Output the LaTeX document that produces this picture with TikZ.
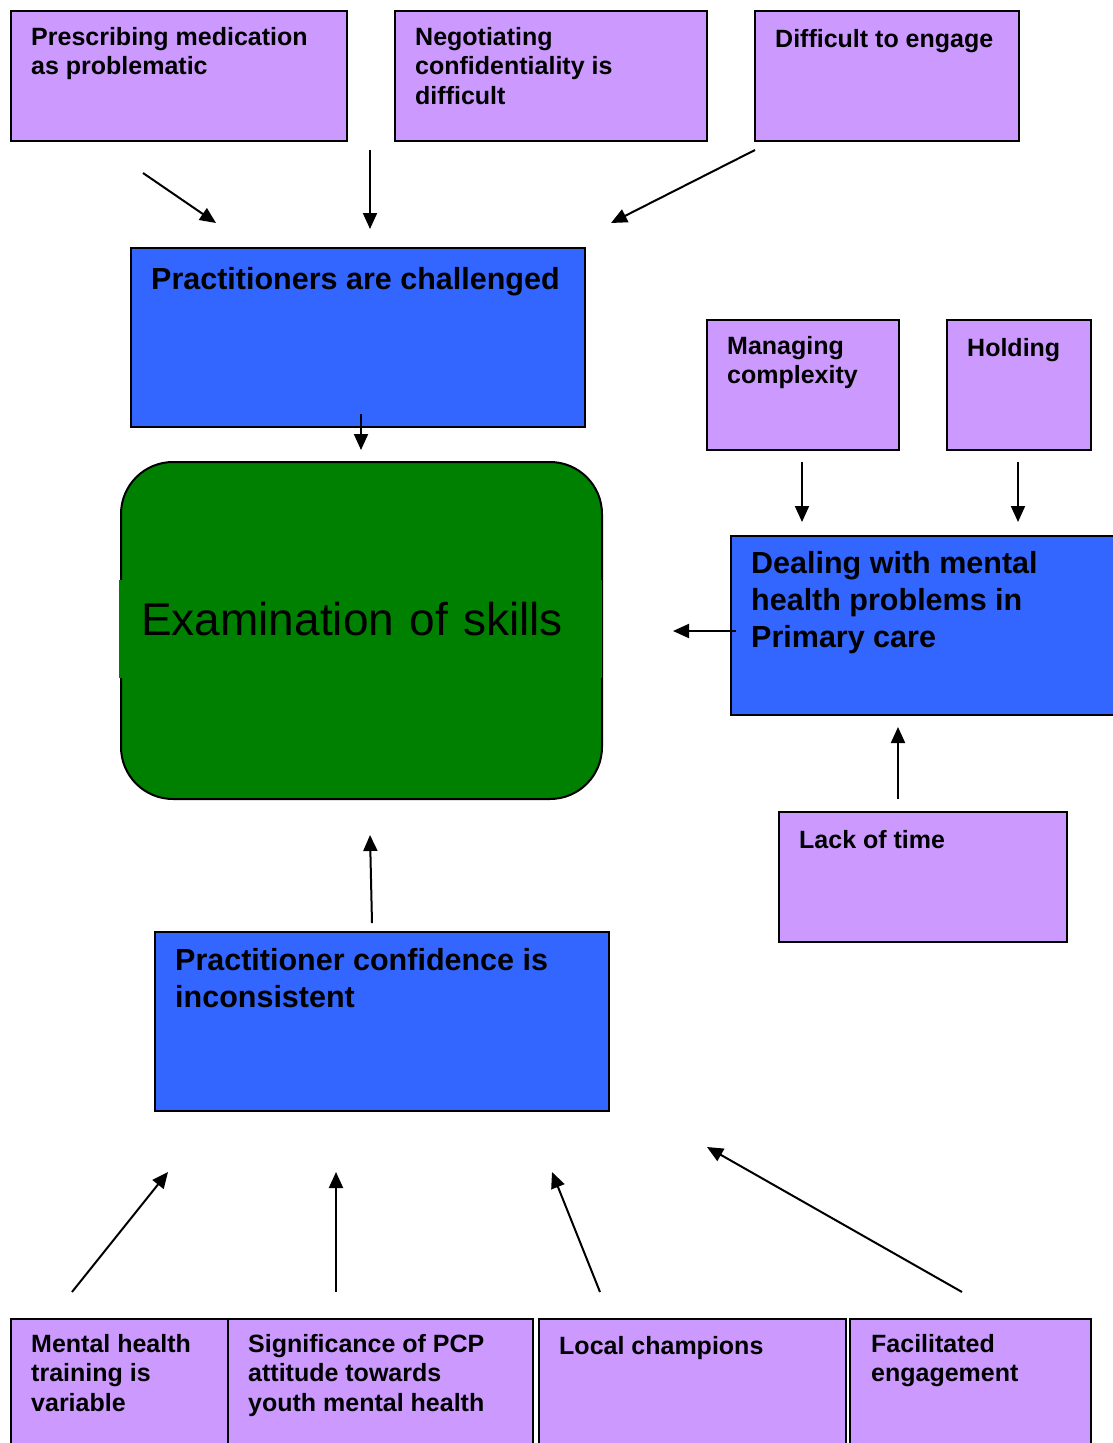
\documentclass[tikz,border=0pt]{standalone}
\usepackage{fontspec}
\setmainfont{Liberation Sans}
\usetikzlibrary{arrows.meta}
\definecolor{lilac}{HTML}{CC99FF}
\definecolor{royal}{HTML}{3366FF}
\definecolor{leaf}{HTML}{008000}
\tikzset{
  box/.style={draw=black, line width=2pt, rectangle, inner sep=0pt, anchor=north west},
  lilacbox/.style={box, fill=lilac},
  bluebox/.style={box, fill=royal},
  smalltext/.style={anchor=north west, inner sep=0pt, align=left,
    font=\bfseries\fontsize{25}{29.5}\selectfont, execute at begin node=\strut},
  bigtext/.style={anchor=north west, inner sep=0pt, align=left,
    font=\bfseries\fontsize{30.5}{37}\selectfont, execute at begin node=\strut},
  link/.style={line width=2pt, -{Triangle[length=16pt,width=14pt]}},
}
\begin{document}
\begin{tikzpicture}[x=1pt,y=-1pt]
  \useasboundingbox (0,0) rectangle (1113,1443);
  \fill[white] (0,0) rectangle (1113,1443);
  \clip (0,0) rectangle (1113,1443);

  % top row of factors
  \node[lilacbox, minimum width=336, minimum height=130] (presc) at (10,10) {};
  \node[smalltext] (prescT) at (31,27) {Prescribing medication\\as problematic};
  \node[lilacbox, minimum width=312, minimum height=130] (negot) at (394,10) {};
  \node[smalltext] (negotT) at (415,27) {Negotiating\\confidentiality is\\difficult};
  \node[lilacbox, minimum width=264, minimum height=130] (diff) at (754,10) {};
  \node[smalltext] (diffT) at (775,27) {Difficult to engage};

  % practitioners are challenged
  \node[bluebox, minimum width=454, minimum height=179] (chall) at (130,247) {};
  \node[bigtext] (challT) at (151,263) {Practitioners are challenged};

  % right-hand factors
  \node[lilacbox, minimum width=192, minimum height=130] (manag) at (706,319) {};
  \node[smalltext] (managT) at (727,336) {Managing\\complexity};
  \node[lilacbox, minimum width=144, minimum height=130] (hold) at (946,319) {};
  \node[smalltext] (holdT) at (967,336) {Holding};

  \node[bluebox, minimum width=400, minimum height=179] (deal) at (730,535) {};
  \node[bigtext] (dealT) at (751,551) {Dealing with mental\\health problems in\\Primary care};

  \node[lilacbox, minimum width=288, minimum height=130] (lack) at (778,811) {};
  \node[smalltext] (lackT) at (799,828) {Lack of time};

  % central theme
  \node[draw=black, line width=2pt, fill=leaf, rounded corners=52pt, inner sep=0pt,
        minimum width=481, minimum height=337, anchor=north west] (exam) at (120,461) {};
  \node[fill=leaf, anchor=north west, inner xsep=22pt, inner ysep=0pt, text width=439pt,
        align=left, text height=55pt, text depth=43pt,
        font=\fontsize{46}{55}\selectfont] (examT) at (119,580) {Examination of skills};

  % practitioner confidence
  \node[bluebox, minimum width=454, minimum height=179] (conf) at (154,931) {};
  \node[bigtext] (confT) at (175,948) {Practitioner confidence is\\inconsistent};

  % bottom row of factors
  \node[lilacbox, minimum width=217, minimum height=140] (ment) at (10,1318) {};
  \node[smalltext] (mentT) at (31,1334) {Mental health\\training is\\variable};
  \node[lilacbox, minimum width=305, minimum height=140] (sig) at (227,1318) {};
  \node[smalltext] (sigT) at (248,1334) {Significance of PCP\\attitude towards\\youth mental health};
  \node[lilacbox, minimum width=307, minimum height=140] (local) at (538,1318) {};
  \node[smalltext] (localT) at (559,1334) {Local champions};
  \node[lilacbox, minimum width=241, minimum height=140] (facil) at (849,1318) {};
  \node[smalltext] (facilT) at (871,1334) {Facilitated\\engagement};

  % connector ends
  \coordinate (p1) at (143,173);  \coordinate (q1) at (216,223);
  \coordinate (p2) at (370,150);  \coordinate (q2) at (370,229);
  \coordinate (p3) at (755,150);  \coordinate (q3) at (611,223);
  \coordinate (p4) at (361,414);  \coordinate (q4) at (361,450);
  \coordinate (p5) at (736,631);  \coordinate (q5) at (673,631);
  \coordinate (p6) at (802,462);  \coordinate (q6) at (802,522);
  \coordinate (p7) at (1018,462); \coordinate (q7) at (1018,522);
  \coordinate (p8) at (898,799);  \coordinate (q8) at (898,727);
  \coordinate (p9) at (372,923);  \coordinate (q9) at (370,835);
  \coordinate (p10) at (72,1292); \coordinate (q10) at (168,1172);
  \coordinate (p11) at (336,1292); \coordinate (q11) at (336,1172);
  \coordinate (p12) at (600,1292); \coordinate (q12) at (552,1172);
  \coordinate (p13) at (962,1292); \coordinate (q13) at (707,1147);

  \foreach \i in {1,...,13} { \draw[link] (p\i) -- (q\i); }
\end{tikzpicture}
\end{document}
